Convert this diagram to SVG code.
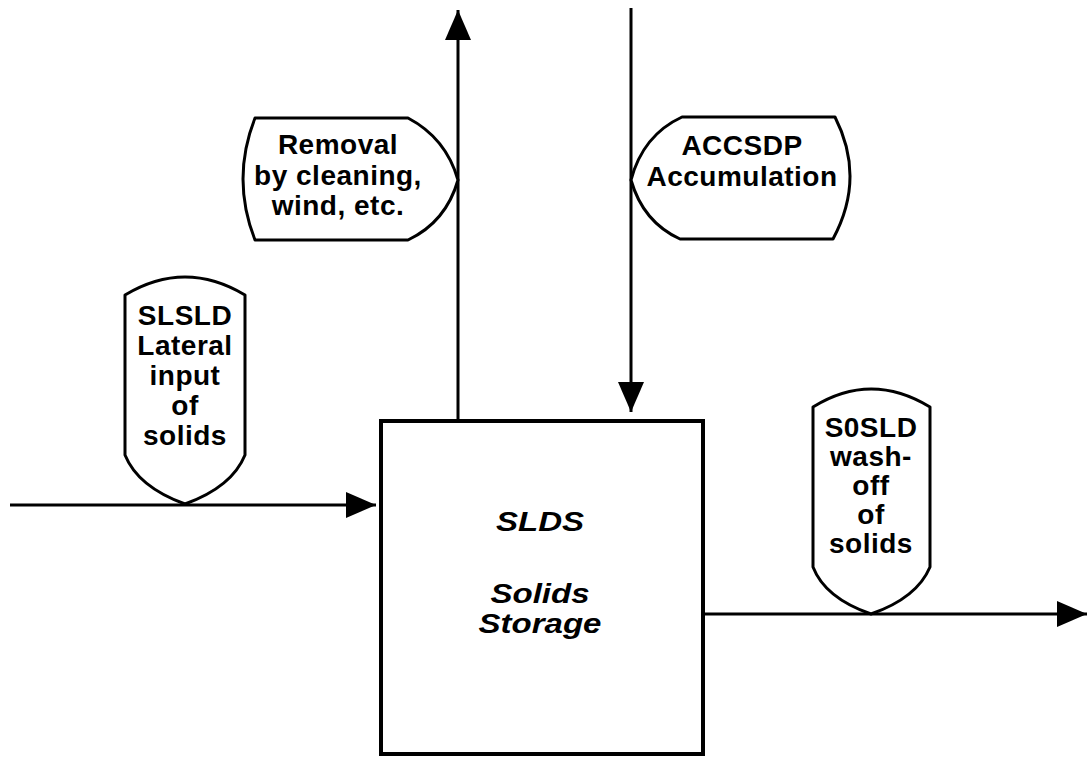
<svg xmlns="http://www.w3.org/2000/svg" width="1088" height="757" viewBox="0 0 1088 757">
<style>
.bg{fill:#fff}
.shape{fill:#fff;stroke:#000;stroke-width:3;stroke-linejoin:round}
.box{fill:#fff;stroke:#000;stroke-width:4}
.line{fill:none;stroke:#000;stroke-width:3}
.t{font-family:"Liberation Sans",Arial,sans-serif;font-weight:bold;font-size:28px;letter-spacing:0.5px;text-anchor:middle;fill:#000}
.ti{font-style:italic;letter-spacing:0}
</style>
<defs>
<marker id="ah" markerUnits="userSpaceOnUse" markerWidth="30" markerHeight="26" refX="30" refY="13" orient="auto">
<path d="M0,0 L30,13 L0,26 Z" fill="#000"/>
</marker>
</defs>
<rect class="bg" x="0" y="0" width="1088" height="757"/>
<g id="connectors">
<line class="line" x1="458" y1="421" x2="458" y2="10" marker-end="url(#ah)"/>
<line class="line" x1="631" y1="8" x2="631" y2="412" marker-end="url(#ah)"/>
<line class="line" x1="10" y1="505" x2="376" y2="505" marker-end="url(#ah)"/>
<line class="line" x1="703" y1="614" x2="1087" y2="614" marker-end="url(#ah)"/>
</g>
<g id="storage">
<rect class="box" x="381" y="421" width="322" height="333"/>
<g transform="translate(540,0) scale(1.18,1)">
<text class="t ti" x="0" y="531">SLDS</text>
<text class="t ti" x="0" y="603">Solids</text>
<text class="t ti" x="0" y="633">Storage</text>
</g>
</g>
<g id="removal">
<path class="shape" d="M255,118 L408,118 Q446,138 458,180 Q446,222 408,240 L255,240 Q231,179 255,118 Z"/>
<text class="t" x="338" y="154">Removal</text>
<text class="t" x="338" y="185">by cleaning,</text>
<text class="t" x="338" y="215">wind, etc.</text>
</g>
<g id="accsdp">
<path class="shape" d="M682,117 L835,117 Q866,178 833,239 L680,239 Q643,222 631,180 Q643,135 682,117 Z"/>
<text class="t" x="742" y="155">ACCSDP</text>
<text class="t" x="742" y="186">Accumulation</text>
</g>
<g id="slsld">
<path class="shape" d="M125,295 Q185,259 245,295 L245,455 Q232,487 185,504 Q138,487 125,455 Z"/>
<text class="t" x="185" y="325">SLSLD</text>
<text class="t" x="185" y="355">Lateral</text>
<text class="t" x="185" y="385">input</text>
<text class="t" x="185" y="415">of</text>
<text class="t" x="185" y="445">solids</text>
</g>
<g id="s0sld">
<path class="shape" d="M813,407 Q871,371 930,407 L930,567 Q917,598 871,614 Q825,598 813,567 Z"/>
<text class="t" x="871" y="437">S0SLD</text>
<text class="t" x="871" y="466">wash-</text>
<text class="t" x="871" y="495">off</text>
<text class="t" x="871" y="524">of</text>
<text class="t" x="871" y="553">solids</text>
</g>
</svg>
